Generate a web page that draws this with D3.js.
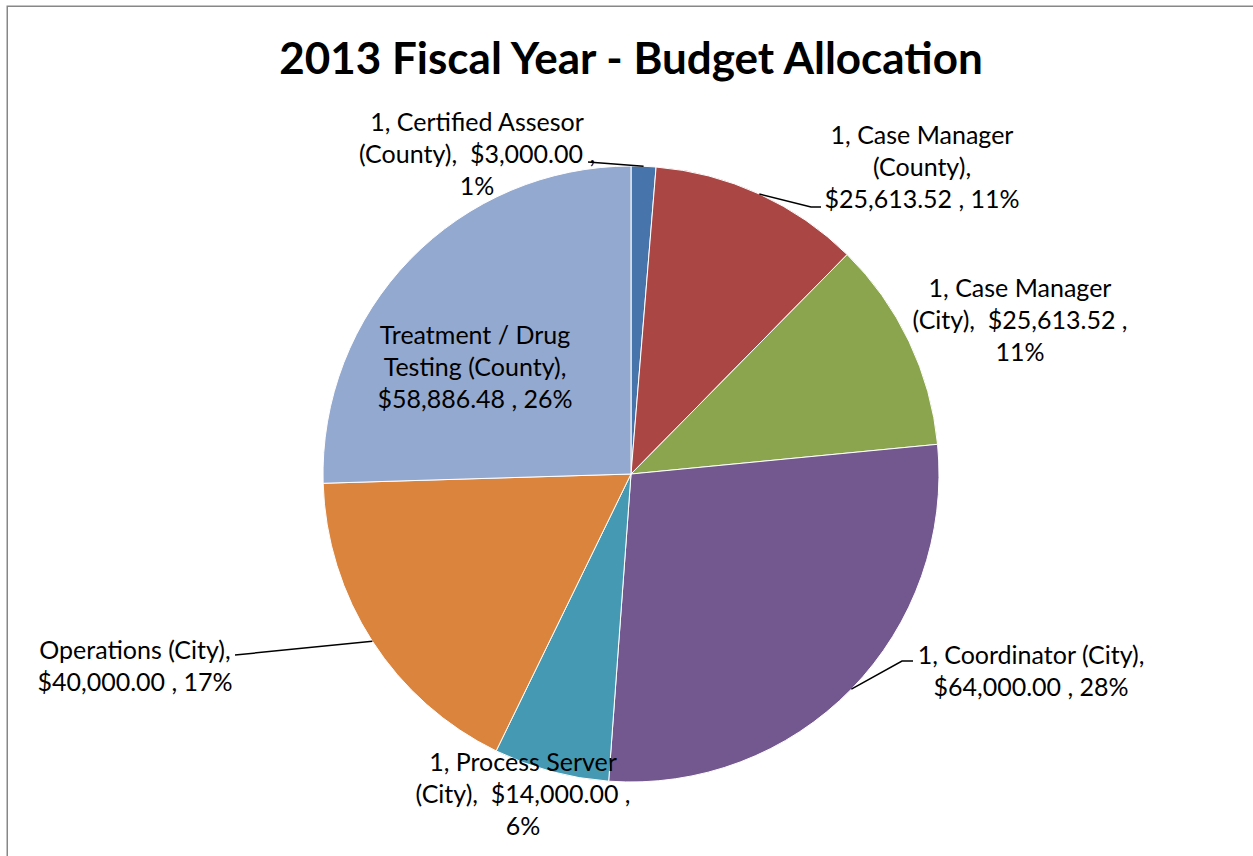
<!DOCTYPE html>
<html>
<head>
<meta charset="utf-8">
<script src="https://cdn.jsdelivr.net/npm/d3@7"></script>
<style>
  html, body { margin: 0; padding: 0; background: #fff; }
  svg { display: block; }
  text { font-family: Lato, "Open Sans", sans-serif; fill: #000; white-space: pre; }
</style>
</head>
<body>
<svg id="chart" width="1253" height="856"></svg>
<script>
// Budget line items, in drawing order (clockwise from 12 o'clock)
const categories = [
  "1, Certified Assesor (County)",
  "1, Case Manager (County)",
  "1, Case Manager (City)",
  "1, Coordinator (City)",
  "1, Process Server (City)",
  "Operations (City)",
  "Treatment / Drug Testing (County)"
];
const amounts = [3000.00, 25613.52, 25613.52, 64000.00, 14000.00, 40000.00, 58886.48];
const colors = ["#4674AB", "#AA4644", "#8BA54E", "#72588F", "#4599B2", "#DB843D", "#93A9CF"];

// How each data label is broken into lines
const labelLines = [
  ["1, Certified Assesor", "(County),  {v} ,", "{p}"],
  ["1, Case Manager", "(County),", "{v} , {p}"],
  ["1, Case Manager", "(City),  {v} ,", "{p}"],
  ["1, Coordinator (City),", "{v} , {p}"],
  ["1, Process Server", "(City),  {v} ,", "{p}"],
  ["Operations (City),", "{v} , {p}"],
  ["Treatment / Drug", "Testing (County),", "{v} , {p}"]
];

// Label block placement relative to the pie centre (dx, dy of first line) and leader elbow
const labelPlace = [
  { dx: -154, dy: -352, leader: { to: [-43, -312], elbow: null } },
  { dx: 291,  dy: -339, leader: { to: [180, -267], elbow: [190, -267] } },
  { dx: 389,  dy: -186, leader: null },
  { dx: 400,  dy: 181,  leader: { to: [271, 187], elbow: [282, 187] } },
  { dx: -108, dy: 288,  leader: null },
  { dx: -496, dy: 176,  leader: { to: [-396, 181], elbow: null } },
  { dx: -156, dy: -139, leader: null }
];

const W = 1253, H = 856;
const cx = 631, cy = 474, R = 308;
const lineH = 32;

const svg = d3.select("#chart");

// chart area frame
svg.append("rect")
  .attr("x", 7.25).attr("y", 6.25)
  .attr("width", W + 20).attr("height", H + 20)
  .attr("fill", "#fff")
  .attr("stroke", "#878787")
  .attr("stroke-width", 1.5);

svg.append("text")
  .attr("x", 631).attr("y", 74)
  .attr("text-anchor", "middle")
  .style("font-weight", "bold")
  .style("font-size", "44px")
  .text("2013 Fiscal Year - Budget Allocation");

const total = d3.sum(amounts);
const money = d3.format("$,.2f");

// whole-number percentages that add up to 100 (largest remainder)
const rawPct = amounts.map(v => v / total * 100);
const roundedPct = rawPct.map(Math.floor);
let short = 100 - d3.sum(roundedPct);
d3.range(amounts.length)
  .sort((a, b) => (rawPct[b] - roundedPct[b]) - (rawPct[a] - roundedPct[a]))
  .forEach(i => { if (short > 0) { roundedPct[i] += 1; short -= 1; } });

const pie = d3.pie().sort(null).value(d => d)(amounts);
const arc = d3.arc().innerRadius(0).outerRadius(R);

const g = svg.append("g").attr("transform", `translate(${cx},${cy})`);

g.selectAll("path.slice")
  .data(pie)
  .join("path")
  .attr("class", "slice")
  .attr("d", arc)
  .attr("fill", (d, i) => colors[i])
  .attr("stroke", "#fff")
  .attr("stroke-width", 1);

// leader lines from the slice rim to the label
pie.forEach((d, i) => {
  const L = labelPlace[i].leader;
  if (!L) return;
  const a = (d.startAngle + d.endAngle) / 2;
  const start = [R * Math.sin(a), -R * Math.cos(a)];
  const pts = [start, L.to];
  if (L.elbow) pts.push(L.elbow);
  g.append("path")
    .attr("d", d3.line()(pts))
    .attr("fill", "none")
    .attr("stroke", "#000")
    .attr("stroke-width", 1.5);
});

// data labels
pie.forEach((d, i) => {
  const v = money(amounts[i]);
  const p = roundedPct[i] + "%";
  const t = g.append("text")
    .attr("text-anchor", "middle")
    .style("font-size", "25px")
    .attr("transform", `translate(${labelPlace[i].dx},${labelPlace[i].dy})`);
  labelLines[i].forEach((ln, k) => {
    t.append("tspan")
      .attr("x", 0)
      .attr("y", k * lineH)
      .attr("dy", "0.35em")
      .text(ln.replace("{v}", v).replace("{p}", p));
  });
});
</script>
</body>
</html>
